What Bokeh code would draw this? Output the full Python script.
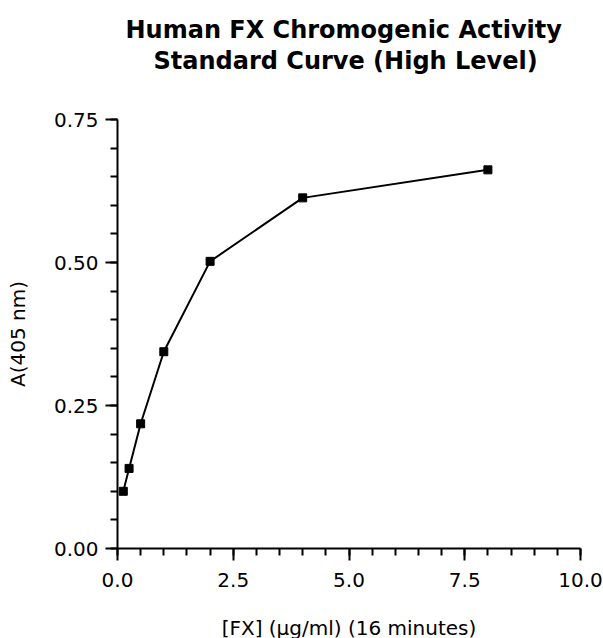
from bokeh.plotting import figure
from bokeh.models import Range1d, FixedTicker, Title
from bokeh.embed import file_html
from bokeh.resources import INLINE

# data
fx_conc = [0.125, 0.25, 0.5, 1.0, 2.0, 4.0, 8.0]
absorbance = [0.100, 0.140, 0.218, 0.344, 0.502, 0.613, 0.662]

x_major = [0.0, 2.5, 5.0, 7.5, 10.0]
x_minor = [0.5 * i for i in range(21)]
y_major = [0.0, 0.25, 0.50, 0.75]
y_minor = [0.05 * i for i in range(16)]

title_lines = ["Human FX Chromogenic Activity", "Standard Curve (High Level)"]

FONT = "DejaVu Sans"

p = figure(
    frame_width=463, frame_height=429,
    x_range=Range1d(0, 10), y_range=Range1d(0, 0.75),
    output_backend="svg", toolbar_location=None,
    min_border_left=117, min_border_right=23,
    min_border_top=119, min_border_bottom=90,
)
p.outline_line_color = None
p.grid.visible = False
p.title.visible = False

def title_panel(text, standoff, offset):
    return Title(text=text, align="left", text_font=FONT,
                 text_font_size="24px", text_font_style="bold",
                 text_color="black", standoff=standoff, offset=offset)

# panels stack outward from the frame: spacer, second line, first line
p.add_layout(title_panel(" ", 13, 0), "above")
p.add_layout(title_panel(title_lines[1], 3, 36), "above")
p.add_layout(title_panel(title_lines[0], 0, 8), "above")

for ax in (p.xaxis[0], p.yaxis[0]):
    ax.axis_line_width = 2
    ax.axis_line_color = "black"
    ax.major_tick_line_width = 2
    ax.minor_tick_line_width = 2
    ax.major_tick_line_color = "black"
    ax.minor_tick_line_color = "black"
    ax.major_tick_out = 12
    ax.major_tick_in = 0
    ax.minor_tick_out = 7
    ax.minor_tick_in = 0
    ax.major_label_text_font = FONT
    ax.major_label_text_font_size = "20px"
    ax.major_label_text_color = "black"
    ax.axis_label_text_font = FONT
    ax.axis_label_text_font_size = "20px"
    ax.axis_label_text_font_style = "normal"
    ax.axis_label_text_color = "black"

p.xaxis.ticker = FixedTicker(ticks=x_major, minor_ticks=x_minor)
p.yaxis.ticker = FixedTicker(ticks=y_major, minor_ticks=y_minor)
p.xaxis.major_label_overrides = {v: f"{v:.1f}" for v in x_major}
p.yaxis.major_label_overrides = {v: f"{v:.2f}" for v in y_major}
p.xaxis.axis_label = "[FX] (\u03bcg/ml) (16 minutes)"
p.yaxis.axis_label = "A(405 nm)"
p.xaxis.major_label_standoff = 12
p.yaxis.major_label_standoff = 7
p.xaxis.axis_label_standoff = 26
p.yaxis.axis_label_standoff = 21

p.line(fx_conc, absorbance, line_color="black", line_width=2)
p.scatter(fx_conc, absorbance, marker="square", size=8,
          fill_color="black", line_color="black")

open("out.html", "w").write(file_html(p, INLINE))
